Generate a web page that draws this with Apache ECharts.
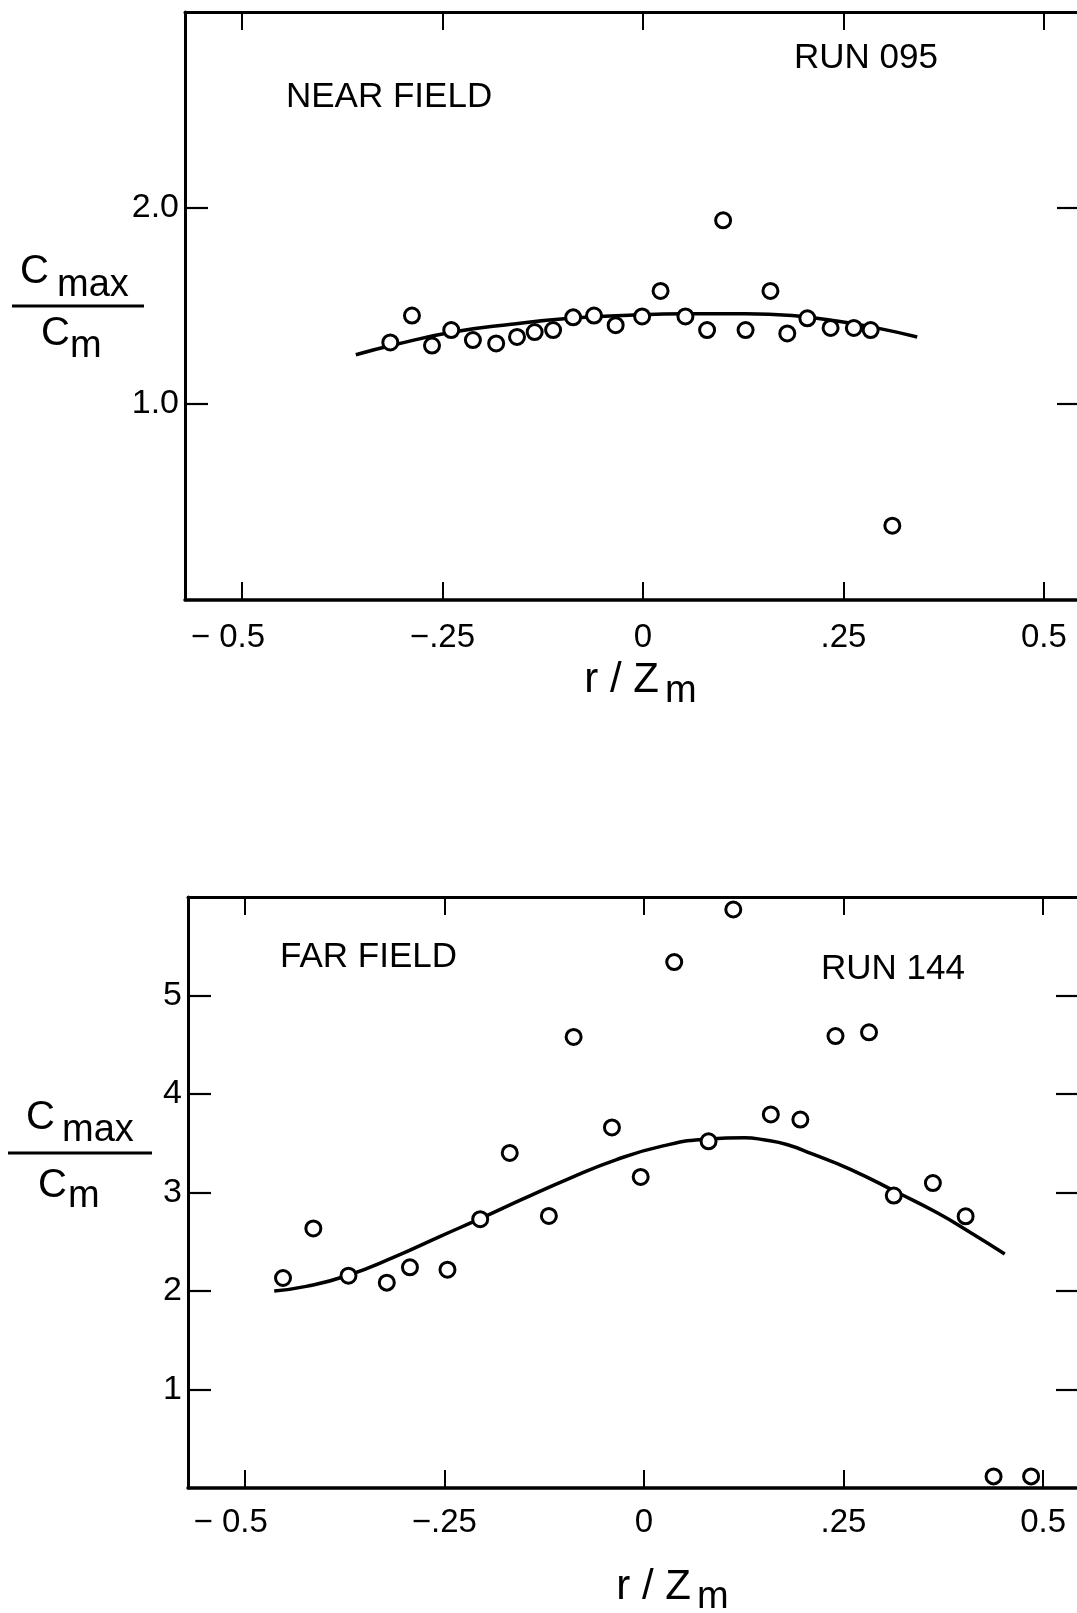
<!DOCTYPE html>
<html>
<head>
<meta charset="utf-8">
<style>
  html, body { margin: 0; padding: 0; background: #ffffff; }
  #chart { width: 1077px; height: 1613px; }
</style>
<script src="https://cdn.jsdelivr.net/npm/echarts@6/dist/echarts.min.js"></script>
</head>
<body>
<div id="chart"></div>
<script>
// ---------- data ----------
// Near field, RUN 095
const nearX = [-0.315, -0.288, -0.263, -0.239, -0.212, -0.183, -0.157, -0.135, -0.112, -0.087, -0.061, -0.034, -0.001, 0.022, 0.053, 0.080, 0.100, 0.128, 0.159, 0.180, 0.205, 0.234, 0.263, 0.284, 0.311];
const nearY = [1.314, 1.451, 1.298, 1.377, 1.326, 1.309, 1.342, 1.367, 1.377, 1.442, 1.451, 1.402, 1.447, 1.577, 1.447, 1.377, 1.937, 1.377, 1.577, 1.360, 1.437, 1.388, 1.388, 1.377, 0.379];
const nearFitX = [-0.358, -0.310, -0.237, -0.164, -0.091, -0.018, 0.055, 0.128, 0.186, 0.237, 0.288, 0.342];
const nearFitY = [1.251, 1.302, 1.367, 1.407, 1.437, 1.453, 1.460, 1.460, 1.451, 1.426, 1.391, 1.342];

// Far field, RUN 144
const farX = [-0.452, -0.414, -0.370, -0.322, -0.293, -0.246, -0.205, -0.168, -0.119, -0.088, -0.040, -0.004, 0.038, 0.081, 0.112, 0.159, 0.196, 0.240, 0.282, 0.313, 0.362, 0.403, 0.438, 0.485];
const farY = [2.132, 2.635, 2.155, 2.085, 2.240, 2.216, 2.729, 3.402, 2.762, 4.579, 3.661, 3.158, 5.339, 3.520, 5.873, 3.793, 3.741, 4.588, 4.626, 2.969, 3.096, 2.758, 0.118, 0.118];
const farFitX = [-0.463, -0.423, -0.372, -0.313, -0.255, -0.205, -0.152, -0.093, -0.035, 0.024, 0.081, 0.126, 0.150, 0.180, 0.210, 0.258, 0.317, 0.368, 0.412, 0.452];
const farFitY = [2.000, 2.047, 2.155, 2.344, 2.555, 2.734, 2.932, 3.144, 3.332, 3.473, 3.544, 3.556, 3.535, 3.485, 3.394, 3.238, 3.002, 2.791, 2.579, 2.376];

// axis ticks and labels
const xTicks = [-0.5, -0.25, 0, 0.25, 0.5];
const xTickLabels = ['\u2212 0.5', '\u2212.25', '0', '.25', '0.5'];
const nearYTicks = [1, 2];
const nearYTickLabels = ['1.0', '2.0'];
const farYTicks = [1, 2, 3, 4, 5];
const farYTickLabels = ['1', '2', '3', '4', '5'];

// ---------- chart ----------
const FONT = 'Liberation Sans';
const chart = echarts.init(document.getElementById('chart'), null, { renderer: 'canvas' });

function zip(a, b) { return a.map((v, i) => [v, b[i]]); }
function labelFrom(ticks, labels) {
  return function (v) {
    for (let i = 0; i < ticks.length; i++) {
      if (Math.abs(ticks[i] - v) < 1e-6) return labels[i];
    }
    return '';
  };
}
// x labels: the first one ("- 0.5") sits a little left of its tick in the original
function xLabelFormatter(v) {
  const s = labelFrom(xTicks, xTickLabels)(v);
  return Math.abs(v + 0.5) < 1e-6 ? '{shift|' + s + '}' : '{n|' + s + '}';
}
const xLabelRich = {
  n: { fontFamily: FONT, fontSize: 33, color: '#000' },
  shift: { fontFamily: FONT, fontSize: 33, color: '#000', padding: [0, 28, 0, 0] }
};

function xAxisBottom(gridIndex, margin) {
  return {
    type: 'value', gridIndex: gridIndex, position: 'bottom',
    min: -0.571, max: 0.545,
    axisLine: { show: true, onZero: false, lineStyle: { color: '#000', width: 3.5 } },
    axisTick: { show: true, inside: true, length: 18, customValues: xTicks, lineStyle: { color: '#000', width: 2 } },
    axisLabel: { show: true, margin: margin, customValues: xTicks, formatter: xLabelFormatter, rich: xLabelRich,
      color: '#000', fontFamily: FONT, fontSize: 33 },
    splitLine: { show: false }
  };
}
function xAxisTop(gridIndex) {
  return {
    type: 'value', gridIndex: gridIndex, position: 'top',
    min: -0.571, max: 0.545,
    axisLine: { show: true, onZero: false, lineStyle: { color: '#000', width: 3 } },
    axisTick: { show: true, inside: true, length: 18, customValues: xTicks, lineStyle: { color: '#000', width: 2 } },
    axisLabel: { show: false },
    splitLine: { show: false }
  };
}
function yAxisLeft(gridIndex, max, ticks, labels) {
  return {
    type: 'value', gridIndex: gridIndex, position: 'left',
    min: 0, max: max,
    axisLine: { show: true, onZero: false, lineStyle: { color: '#000', width: 3 } },
    axisTick: { show: true, inside: true, length: 23, customValues: ticks, lineStyle: { color: '#000', width: 2.2 } },
    axisLabel: { show: true, margin: 6, customValues: ticks, formatter: labelFrom(ticks, labels),
      color: '#000', fontFamily: FONT, fontSize: 34 },
    splitLine: { show: false }
  };
}
function yAxisRight(gridIndex, max, ticks) {
  return {
    type: 'value', gridIndex: gridIndex, position: 'right',
    min: 0, max: max,
    axisLine: { show: true, onZero: false, lineStyle: { color: '#000', width: 3 } },
    axisTick: { show: true, inside: true, length: 23, customValues: ticks, lineStyle: { color: '#000', width: 2.2 } },
    axisLabel: { show: false },
    splitLine: { show: false }
  };
}

const circleStyle = { color: '#ffffff', borderColor: '#000000', borderWidth: 3, opacity: 1 };
const curveStyle = { color: '#000000', width: 3.5 };

function txt(text, x, y, size, align) {
  return { type: 'text', x: x, y: y, z: 10,
    style: { text: text, fill: '#000', font: size + 'px "' + FONT + '"', align: align || 'left', verticalAlign: 'middle' } };
}
function hline(x1, x2, y) {
  return { type: 'line', z: 10, shape: { x1: x1, y1: y, x2: x2, y2: y }, style: { stroke: '#000', lineWidth: 3 } };
}

const option = {
  backgroundColor: '#ffffff',
  animation: false,
  grid: [
    { left: 185, right: -3, top: 12, height: 588, containLabel: false, outerBoundsMode: 'none' },
    { left: 188, right: -2, top: 897, height: 591, containLabel: false, outerBoundsMode: 'none' }
  ],
  xAxis: [xAxisBottom(0, 21), xAxisTop(0), xAxisBottom(1, 18), xAxisTop(1)],
  yAxis: [
    yAxisLeft(0, 3, nearYTicks, nearYTickLabels), yAxisRight(0, 3, nearYTicks),
    yAxisLeft(1, 6, farYTicks, farYTickLabels), yAxisRight(1, 6, farYTicks)
  ],
  series: [
    { type: 'line', xAxisIndex: 0, yAxisIndex: 0, data: zip(nearFitX, nearFitY), smooth: true,
      showSymbol: false, lineStyle: curveStyle, z: 2, silent: true },
    { type: 'scatter', xAxisIndex: 0, yAxisIndex: 0, data: zip(nearX, nearY), symbol: 'circle',
      symbolSize: 15, itemStyle: circleStyle, z: 3, clip: false },
    { type: 'line', xAxisIndex: 2, yAxisIndex: 2, data: zip(farFitX, farFitY), smooth: true,
      showSymbol: false, lineStyle: curveStyle, z: 2, silent: true },
    { type: 'scatter', xAxisIndex: 2, yAxisIndex: 2, data: zip(farX, farY), symbol: 'circle',
      symbolSize: 15, itemStyle: circleStyle, z: 3, clip: false }
  ],
  graphic: [
    // panel annotations
    txt('NEAR FIELD', 286, 97, 35),
    txt('RUN 095', 794, 58, 35),
    txt('FAR FIELD', 280, 957, 35),
    txt('RUN 144', 821, 969, 35),
    // y-axis names: C_max / C_m  (top panel)
    txt('C', 20, 272, 40),
    txt('max', 57, 286, 38),
    hline(12, 144, 306),
    txt('C', 41, 334, 40),
    txt('m', 70, 347, 38),
    // bottom panel
    txt('C', 26, 1118, 40),
    txt('max', 62, 1131, 38),
    hline(8, 152, 1153),
    txt('C', 38, 1186, 40),
    txt('m', 68, 1197, 38)
    ,
    // x-axis names: r / Z_m
    txt('r / Z', 659, 680, 42, 'right'),
    txt('m', 665, 692, 38),
    txt('r / Z', 691, 1587, 42, 'right'),
    txt('m', 697, 1598, 38)
  ]
};
chart.setOption(option);
</script>
</body>
</html>
